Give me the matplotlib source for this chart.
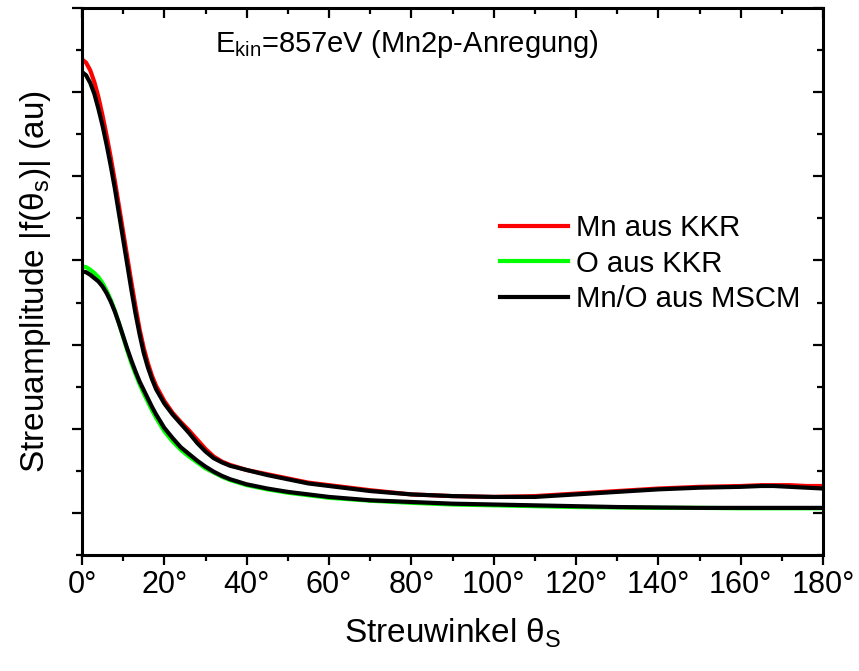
import matplotlib
matplotlib.use('Agg')
import matplotlib.pyplot as plt
from matplotlib.ticker import MultipleLocator

plt.rcParams['font.family'] = ['Liberation Sans', 'DejaVu Sans']
plt.rcParams['mathtext.fontset'] = 'custom'
plt.rcParams['mathtext.rm'] = 'Liberation Sans'
plt.rcParams['mathtext.it'] = 'Liberation Sans:italic'

# Streuwinkel in Grad
winkel = [0, 1, 2, 3, 4, 5, 6, 7, 8, 9, 10, 11, 12, 13, 14, 15, 16, 17, 18,
          20, 22, 24, 26, 28, 30, 32, 34, 36, 40, 45, 50, 55, 60, 70, 80, 90,
          100, 110, 120, 130, 140, 150, 160, 165, 168, 172, 176, 180]

mn_kkr = [5.39, 5.35, 5.26, 5.12, 4.94, 4.72, 4.48, 4.22, 3.94, 3.64, 3.34,
          3.04, 2.74, 2.45, 2.18, 1.96, 1.78, 1.63, 1.51, 1.33, 1.19, 1.08,
          0.98, 0.87, 0.76, 0.67, 0.61, 0.57, 0.51, 0.46, 0.41, 0.36, 0.33,
          0.27, 0.22, 0.20, 0.19, 0.20, 0.23, 0.26, 0.29, 0.31, 0.32, 0.33,
          0.33, 0.33, 0.32, 0.32]

o_kkr = [2.93, 2.92, 2.89, 2.85, 2.80, 2.73, 2.64, 2.53, 2.40, 2.25, 2.09,
         1.93, 1.78, 1.65, 1.53, 1.42, 1.32, 1.22, 1.13, 0.97, 0.85, 0.75,
         0.67, 0.60, 0.53, 0.48, 0.43, 0.39, 0.33, 0.28, 0.24, 0.21, 0.18,
         0.145, 0.12, 0.10, 0.09, 0.08, 0.07, 0.065, 0.06, 0.06, 0.055, 0.055,
         0.055, 0.055, 0.055, 0.055]

mn_mscm = [5.24, 5.20, 5.11, 4.98, 4.80, 4.60, 4.37, 4.12, 3.85, 3.55, 3.25,
           2.95, 2.65, 2.37, 2.12, 1.90, 1.73, 1.59, 1.47, 1.30, 1.17, 1.06,
           0.95, 0.83, 0.73, 0.65, 0.60, 0.56, 0.51, 0.45, 0.40, 0.35, 0.32,
           0.26, 0.22, 0.20, 0.19, 0.19, 0.22, 0.25, 0.28, 0.30, 0.31, 0.32,
           0.32, 0.31, 0.30, 0.29]

o_mscm = [2.87, 2.86, 2.83, 2.79, 2.75, 2.69, 2.61, 2.51, 2.39, 2.25, 2.10,
          1.95, 1.81, 1.68, 1.56, 1.46, 1.36, 1.26, 1.17, 1.01, 0.89, 0.78,
          0.70, 0.62, 0.55, 0.49, 0.44, 0.40, 0.34, 0.29, 0.25, 0.22, 0.19,
          0.15, 0.13, 0.11, 0.10, 0.09, 0.08, 0.07, 0.065, 0.06, 0.06, 0.06,
          0.06, 0.06, 0.06, 0.06]

xticks = [0, 20, 40, 60, 80, 100, 120, 140, 160, 180]
xticklabels = [f'{t}°' for t in xticks]

fig = plt.figure(figsize=(8.59, 6.71), dpi=100)
ax = fig.add_axes([82 / 859, 1 - 555 / 671, 741 / 859, 547 / 671])

lw = 3.0
ax.plot(winkel, mn_kkr, color='#ff0000', lw=lw, label='Mn aus KKR')
ax.plot(winkel, o_kkr, color='#00ff00', lw=lw, label='O aus KKR')
ax.plot(winkel, mn_mscm, color='black', lw=lw, label='Mn/O aus MSCM')
ax.plot(winkel, o_mscm, color='black', lw=lw)

ax.set_xlim(0, 180)
ax.set_ylim(-0.5, 6.0)
ax.set_xticks(xticks)
ax.set_xticklabels(xticklabels)
ax.xaxis.set_minor_locator(MultipleLocator(10))
ax.yaxis.set_major_locator(MultipleLocator(1))
ax.yaxis.set_minor_locator(MultipleLocator(0.5))
ax.set_yticklabels([])

for s in ax.spines.values():
    s.set_linewidth(2.2)
ax.tick_params(which='major', direction='out', length=7, width=1.6,
               labelsize=22, pad=4)
ax.tick_params(which='minor', direction='out', length=4, width=1.6)

# obere und rechte Achse mit Ticks nach innen
top = ax.secondary_xaxis('top')
top.set_xticks(xticks)
top.xaxis.set_minor_locator(MultipleLocator(10))
top.tick_params(which='major', direction='in', length=7, width=1.6, labeltop=False)
top.tick_params(which='minor', direction='in', length=4, width=1.6)
right = ax.secondary_yaxis('right')
right.yaxis.set_major_locator(MultipleLocator(1))
right.yaxis.set_minor_locator(MultipleLocator(0.5))
right.tick_params(which='major', direction='in', length=7, width=1.6, labelright=False)
right.tick_params(which='minor', direction='in', length=4, width=1.6)

ax.set_xlabel(r'Streuwinkel θ$_\mathrm{S}$', fontsize=24, labelpad=12)
ax.set_ylabel(r'Streuamplitude |f(θ$_\mathrm{s}$)| (au)', fontsize=24, labelpad=10)

ax.text(32.3, 5.48, r'E$_\mathrm{kin}$=857eV (Mn2p-Anregung)', fontsize=21,
        ha='left', va='baseline')

ax.legend(loc='upper left', bbox_to_anchor=(500 / 859, 1 - 214 / 671),
          bbox_transform=fig.transFigure, frameon=False, fontsize=21.2,
          handlelength=2.3, handletextpad=0.28, labelspacing=0.26,
          borderpad=0, borderaxespad=0)

plt.savefig('out.png', dpi=100)
